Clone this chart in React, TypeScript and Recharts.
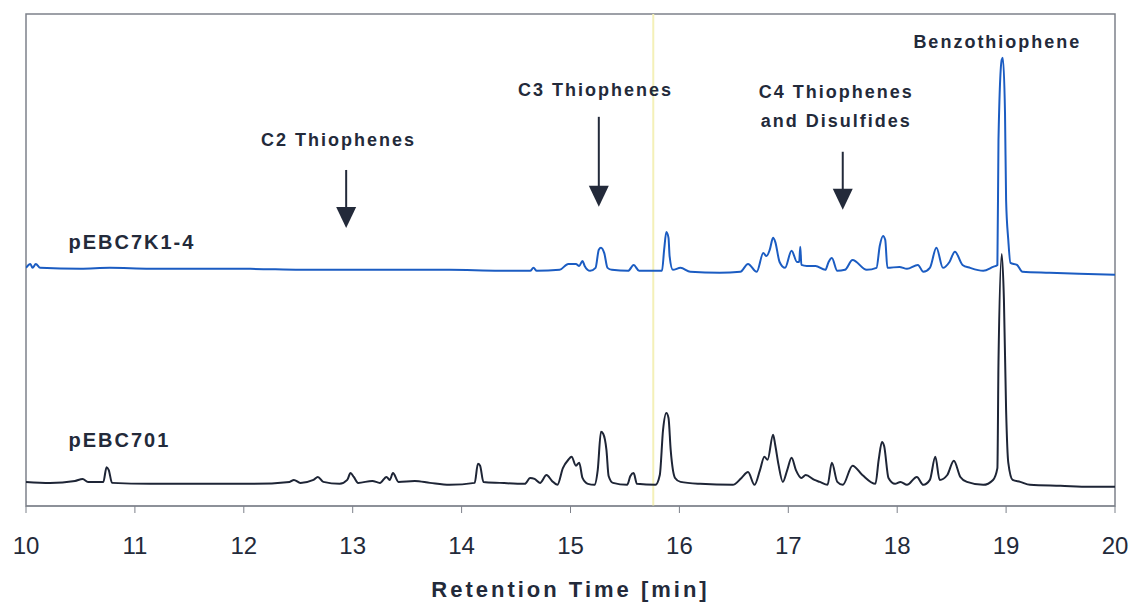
import {
  LineChart,
  Line,
  XAxis,
  YAxis,
  ReferenceLine,
  ReferenceArea,
  ReferenceDot,
} from 'recharts';

// retention time [min], response (arbitrary units, relative to each trace's baseline)
const PEBC701: [number, number][] = [
  [10.0, 0], [10.22, -0.2], [10.45, 0.2], [10.52, 0.6], [10.57, 0], [10.71, 0], [10.74, 3.0],
  [10.76, 2.4], [10.79, -0.2], [11.14, -0.4], [11.6, -0.4], [12.06, -0.4], [12.42, 0],
  [12.46, 0.4], [12.52, -0.2], [12.64, 0.4], [12.68, 1.0], [12.73, 0], [12.88, -0.4],
  [12.95, 0.4], [12.98, 1.8], [13.01, 1.0], [13.05, -0.2], [13.18, 0.2], [13.25, -0.2],
  [13.31, 1.0], [13.34, 0.4], [13.37, 1.8], [13.42, 0], [13.57, 0.2], [13.71, -0.2],
  [13.89, -0.6], [14.12, -0.2], [14.15, 3.7], [14.17, 3.3], [14.2, 0], [14.35, -0.2],
  [14.58, -0.4], [14.63, 0.8], [14.67, 0.6], [14.72, -0.2], [14.78, 1.4], [14.83, 0.2],
  [14.88, -0.6], [14.93, 2.8], [14.98, 4.5], [15.01, 5.1], [15.05, 3.3], [15.08, 3.9],
  [15.11, 0.8], [15.16, -0.4], [15.22, -0.6], [15.25, 2.4], [15.28, 10.2], [15.3, 9.8],
  [15.33, 6.5], [15.35, 1.2], [15.39, -0.2], [15.52, -0.6], [15.55, 1.2], [15.58, 1.8],
  [15.61, -0.4], [15.78, -0.6], [15.82, 1.4], [15.85, 10.6], [15.88, 14.0], [15.9, 13.0],
  [15.92, 6.5], [15.96, 0.8], [16.01, 0], [16.19, -0.4], [16.49, -0.6], [16.57, 0.8],
  [16.63, 2.0], [16.69, -0.6], [16.74, 2.4], [16.78, 5.1], [16.81, 4.5], [16.86, 9.6],
  [16.88, 7.5], [16.91, 3.5], [16.95, 0], [16.99, 2.4], [17.03, 4.9], [17.07, 2.4],
  [17.12, 0.8], [17.16, 1.4], [17.24, 0.4], [17.29, 0], [17.36, -0.6], [17.4, 3.9],
  [17.45, 0], [17.5, -0.6], [17.59, 3.3], [17.68, 1.4], [17.8, -0.4], [17.83, 4.5],
  [17.86, 8.1], [17.88, 7.3], [17.92, 0.8], [17.98, -0.4], [18.03, 0], [18.09, -0.6],
  [18.18, 1.0], [18.24, -0.6], [18.3, 0.4], [18.35, 5.1], [18.39, 0.4], [18.46, 1.4],
  [18.52, 4.3], [18.58, 1.0], [18.64, 0], [18.79, -0.6], [18.88, 0.4], [18.92, 2.8],
  [18.93, 24.2], [18.96, 46.3], [18.98, 37.0], [19.0, 14.6], [19.02, 3.9], [19.06, 0.4],
  [19.13, 0], [19.22, -0.6], [19.5, -0.8], [19.77, -1.0], [20.0, -1.0],
];

const PEBC7K1_4: [number, number][] = [
  [10.0, 0], [10.04, 0.8], [10.06, 0], [10.09, 0.8], [10.13, 0], [10.5, -0.2], [10.77, 0],
  [11.14, -0.2], [11.6, -0.2], [12.06, -0.2], [12.52, -0.4], [12.98, -0.4], [13.43, -0.4],
  [13.89, -0.4], [14.35, -0.6], [14.63, -0.6], [14.66, 0], [14.69, -0.6], [14.9, -0.4],
  [14.98, 0.8], [15.05, 0.8], [15.08, 0.4], [15.11, 1.4], [15.13, 0.4], [15.18, -0.6],
  [15.23, 0], [15.26, 3.7], [15.28, 4.1], [15.31, 3.0], [15.34, 0], [15.38, -0.4],
  [15.53, -0.6], [15.58, 0.6], [15.63, -0.6], [15.84, -0.6], [15.86, 3.7], [15.88, 7.3],
  [15.9, 6.1], [15.91, 2.4], [15.94, -0.4], [16.01, 0], [16.1, -0.8], [16.37, -1.0],
  [16.56, -0.8], [16.63, 0.8], [16.71, -0.8], [16.77, 3.0], [16.8, 2.4], [16.83, 3.7],
  [16.86, 6.1], [16.88, 5.3], [16.92, 1.2], [16.97, 0], [17.03, 3.5], [17.08, 1.2],
  [17.1, 1.2], [17.11, 4.3], [17.12, 0.6], [17.17, 0.4], [17.25, 0.4], [17.34, -0.4],
  [17.37, 1.2], [17.4, 2.0], [17.45, -0.6], [17.52, -0.4], [17.59, 1.6], [17.72, -0.4],
  [17.81, 0], [17.84, 4.5], [17.87, 6.5], [17.89, 5.7], [17.91, 0], [18.02, 0.2],
  [18.09, -0.2], [18.19, 0.6], [18.24, -0.8], [18.3, 0], [18.36, 4.1], [18.42, 0],
  [18.48, 1.2], [18.53, 3.3], [18.6, 0.6], [18.67, 0], [18.79, -0.6], [18.88, 0.2],
  [18.92, 0.6], [18.93, 26.0], [18.96, 42.3], [18.97, 42.7], [18.99, 31.5], [19.0, 13.8],
  [19.02, 5.7], [19.04, 1.0], [19.1, 0.6], [19.15, -0.8], [19.4, -1.0], [19.67, -1.2],
  [20.0, -1.4],
];

// vertical offsets used to stack the two traces
const BLACK_OFFSET = 4.9;
const BLUE_OFFSET = 48.4;

const X_TICKS = [10, 11, 12, 13, 14, 15, 16, 17, 18, 19, 20];

const ARROWS = [
  { t: 12.94, top: 68.3, tip: 56.5 },
  { t: 15.26, top: 79.1, tip: 60.8 },
  { t: 17.5, top: 72.0, tip: 60.2 },
];

const NOTES = [
  { t: 12.87, y: 74.4, text: 'C2 Thiophenes' },
  { t: 15.23, y: 84.6, text: 'C3 Thiophenes' },
  { t: 17.44, y: 84.1, text: 'C4 Thiophenes' },
  { t: 17.44, y: 78.3, text: 'and Disulfides' },
  { t: 18.92, y: 94.3, text: 'Benzothiophene' },
];

const SAMPLE_LABELS = [
  { t: 10.39, y: 53.7, text: 'pEBC7K1-4' },
  { t: 10.39, y: 13.4, text: 'pEBC701' },
];

const FONT = '"Liberation Sans", Arial, Helvetica, sans-serif';
const INK = '#232a3a';

const blackData = PEBC701.map(([t, r]) => ({ t, y: r + BLACK_OFFSET }));
const blueData = PEBC7K1_4.map(([t, r]) => ({ t, y: r + BLUE_OFFSET }));

const textShape = (text: string, anchor: 'middle' | 'start', size: number) =>
  function Note(props: any) {
    return (
      <text
        x={props.cx}
        y={props.cy}
        textAnchor={anchor}
        dominantBaseline="central"
        fontFamily={FONT}
        fontWeight="bold"
        fontSize={size}
        letterSpacing={2}
        fill={INK}
      >
        {text}
      </text>
    );
  };

function ArrowHead(props: any) {
  const { cx, cy } = props;
  return <path d={`M${cx - 10},${cy - 21} L${cx + 10},${cy - 21} L${cx},${cy} Z`} fill={INK} />;
}

export default function App() {
  return (
    <div style={{ position: 'absolute', left: 0, top: 0, background: '#fff' }}>
      <LineChart
        width={1130}
        height={604}
        margin={{ top: 14, right: 15, bottom: 3, left: 26 }}
      >
        <XAxis
          dataKey="t"
          type="number"
          domain={[10, 20]}
          ticks={X_TICKS}
          interval={0}
          allowDataOverflow
          height={95}
          tickSize={7}
          tickMargin={24}
          stroke="#7d818a"
          tick={{ fill: INK, fontSize: 24, fontFamily: FONT }}
          label={{
            value: 'Retention Time [min]',
            position: 'insideBottom',
            offset: 4,
            fill: INK,
            fontSize: 22,
            fontWeight: 'bold',
            fontFamily: FONT,
            letterSpacing: 3,
          }}
        />
        <YAxis type="number" domain={[0, 100]} hide width={0} allowDataOverflow />
        <ReferenceArea x1={10} x2={20} y1={0} y2={100} fill="none" stroke="#7d818a" strokeWidth={1.5} />
        <ReferenceLine x={15.76} stroke="#f4f0b8" strokeWidth={2} />
        <Line
          data={blackData}
          dataKey="y"
          type="monotone"
          stroke="#1e2536"
          strokeWidth={2}
          dot={false}
          isAnimationActive={false}
        />
        <Line
          data={blueData}
          dataKey="y"
          type="monotone"
          stroke="#1b5cc2"
          strokeWidth={2}
          dot={false}
          isAnimationActive={false}
        />
        {ARROWS.map((a) => (
          <ReferenceLine
            key={`s${a.t}`}
            segment={[{ x: a.t, y: a.top }, { x: a.t, y: a.tip + 3 }]}
            stroke={INK}
            strokeWidth={2}
          />
        ))}
        {ARROWS.map((a) => (
          <ReferenceDot key={`h${a.t}`} x={a.t} y={a.tip} shape={ArrowHead} />
        ))}
        {NOTES.map((n) => (
          <ReferenceDot key={n.text} x={n.t} y={n.y} shape={textShape(n.text, 'middle', 18)} />
        ))}
        {SAMPLE_LABELS.map((n) => (
          <ReferenceDot key={n.text} x={n.t} y={n.y} shape={textShape(n.text, 'start', 20)} />
        ))}
      </LineChart>
    </div>
  );
}
